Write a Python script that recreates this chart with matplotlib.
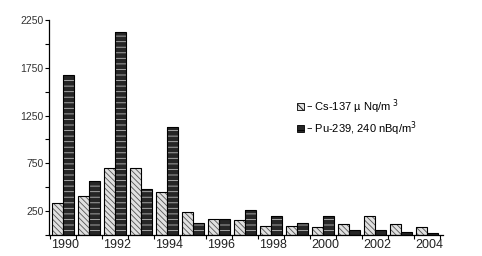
import numpy as np
import matplotlib as mpl
import matplotlib.pyplot as plt
from matplotlib.patches import Patch

mpl.rcParams['font.family'] = ['Liberation Sans', 'DejaVu Sans']
mpl.rcParams['hatch.linewidth'] = 0.6

# data
years = [1990, 1991, 1992, 1993, 1994, 1995, 1996, 1997, 1998, 1999,
         2000, 2001, 2002, 2003, 2004]
cs137 = [340, 410, 700, 700, 455, 240, 172, 155, 93, 93,
         80, 113, 196, 110, 85]
pu239 = [1670, 565, 2120, 485, 1135, 127, 172, 265, 199, 127,
         196, 52, 55, 35, 17]
year_labels = ['1990', '1992', '1994', '1996', '1998', '2000', '2002', '2004']
y_labels = ['250', '750', '1250', '1750', '2250']
legend_labels = ['\u2013 Cs-137 \u00b5 Nq/m $^3$', '\u2013 Pu-239, 240 nBq/m$^3$']

fig = plt.figure(figsize=(4.82, 2.56), dpi=100)
ax = fig.add_axes([0.102, 0.082, 0.817, 0.840])

x = np.array(years, dtype=float)
w = 0.42

# Cs-137: light with dense diagonal hatch
ax.bar(x - 0.22, cs137, w, color='#e0e0e0', edgecolor='#555555', hatch='\\\\\\\\\\\\', linewidth=0)
ax.bar(x - 0.22, cs137, w, fill=False, edgecolor='black', linewidth=0.8)
# Pu-239: dark texture
ax.bar(x + 0.22, pu239, w, color='#262626', edgecolor='#b8b8b8', hatch='---', linewidth=0)
ax.bar(x + 0.22, pu239, w, fill=False, edgecolor='black', linewidth=0.8)

ax.set_xlim(1989.46, 2004.62)
ax.set_ylim(0, 2250)

ax.set_yticks(np.arange(250, 2251, 500))
ax.set_yticklabels(y_labels, fontsize=7.5, color='#333333')
ax.set_yticks(np.arange(0, 2251, 250), minor=True)

ax.set_xticks([v + 0.08 for v in (int(s) for s in year_labels)])
ax.set_xticklabels(year_labels, fontsize=9, color='#222222')
ax.set_xticks(np.arange(1989.5, 2004.6, 1.0), minor=True)
ax.tick_params(axis='x', which='major', length=0, pad=3)
ax.tick_params(axis='x', which='minor', length=3, direction='out', width=0.8)
ax.tick_params(axis='y', which='both', length=3, direction='out', width=0.8, pad=1)

for s in ['top', 'right']:
    ax.spines[s].set_visible(False)
for s in ['left', 'bottom']:
    ax.spines[s].set_linewidth(0.9)

handles = [Patch(facecolor='#e0e0e0', edgecolor='black', hatch='\\\\\\\\\\', linewidth=0.6),
           Patch(facecolor='#262626', edgecolor='black', hatch='---', linewidth=0.6)]
ax.legend(handles, legend_labels, loc='upper left', bbox_to_anchor=(0.615, 0.665),
          frameon=False, fontsize=8, handlelength=0.6, handleheight=0.6,
          handletextpad=0.2, labelspacing=0.3, borderpad=0)

fig.savefig('out.png', dpi=100)
